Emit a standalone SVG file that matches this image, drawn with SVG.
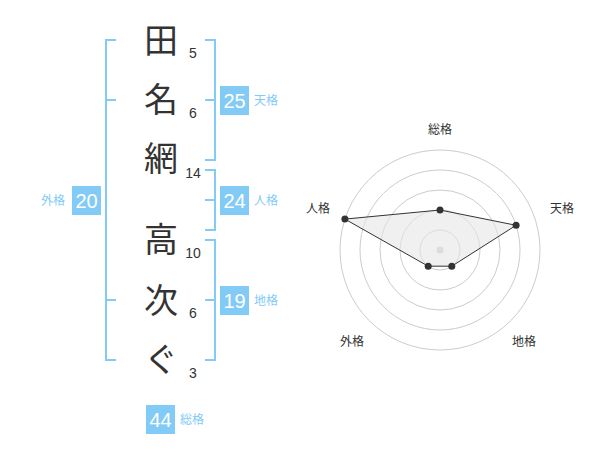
<svg xmlns="http://www.w3.org/2000/svg" width="600" height="470" viewBox="0 0 600 470">
<style>
.k{font-family:"Noto Sans CJK JP","Noto Sans CJK SC",sans-serif;font-size:34px;fill:#333;text-anchor:middle}
.n{font-family:"Liberation Sans",Arial,sans-serif;font-size:14px;fill:#333;text-anchor:middle}
.br{fill:none;stroke:#82cbf7;stroke-width:2}
.box{fill:#82cbf7}
.bn{font-family:"Liberation Sans",Arial,sans-serif;font-size:20px;fill:#fff;text-anchor:middle}
.bl{font-family:"Noto Sans CJK JP","Noto Sans CJK SC",sans-serif;font-size:12px;fill:#82cbf7}
.ring{fill:none;stroke:#ccc;stroke-width:1}
.rl{font-family:"Noto Sans CJK JP","Noto Sans CJK SC",sans-serif;font-size:12px;fill:#333;text-anchor:middle}
.pt{fill:#333}
</style>
<g id="name-chars">
<text class="k" x="161" y="53">田</text>
<text class="k" x="161" y="112">名</text>
<text class="k" x="161" y="171">網</text>
<text class="k" x="161" y="252">高</text>
<text class="k" x="161" y="313">次</text>
<text class="k" x="161" y="372">ぐ</text>
</g>
<g id="strokes">
<text class="n" x="193" y="58">5</text>
<text class="n" x="193" y="118">6</text>
<text class="n" x="193" y="178">14</text>
<text class="n" x="193" y="258">10</text>
<text class="n" x="193" y="318">6</text>
<text class="n" x="193" y="378">3</text>
</g>
<g id="connectors">
<path class="br" d="M116,40 H106 V360 H116 M106,100 H116 M106,300 H116"/>
<path class="br" d="M205,40 H215 V160 H205 M215,100 H205"/>
<path class="br" d="M205,170 H215 V230 H205 M215,200 H205"/>
<path class="br" d="M205,240 H215 V360 H205 M215,300 H205"/>
</g>
<g id="tenkaku">
<rect class="box" x="220" y="86" width="29" height="29"/>
<text class="bn" x="234.5" y="108">25</text>
<text class="bl" x="254" y="105">天格</text>
</g>
<g id="jinkaku">
<rect class="box" x="220" y="186" width="29" height="29"/>
<text class="bn" x="234.5" y="208">24</text>
<text class="bl" x="254" y="205">人格</text>
</g>
<g id="chikaku">
<rect class="box" x="220" y="286" width="29" height="29"/>
<text class="bn" x="234.5" y="308">19</text>
<text class="bl" x="254" y="305">地格</text>
</g>
<g id="gaikaku">
<rect class="box" x="72" y="186" width="29" height="29"/>
<text class="bn" x="86.5" y="208">20</text>
<text class="bl" x="41" y="205">外格</text>
</g>
<g id="sokaku">
<rect class="box" x="146" y="405" width="29" height="29"/>
<text class="bn" x="160.5" y="427">44</text>
<text class="bl" x="180" y="424">総格</text>
</g>
<g id="radar">
<circle class="ring" cx="440" cy="250" r="20"/>
<circle class="ring" cx="440" cy="250" r="40"/>
<circle class="ring" cx="440" cy="250" r="60"/>
<circle class="ring" cx="440" cy="250" r="80"/>
<circle class="ring" cx="440" cy="250" r="100"/>
<circle cx="440" cy="250" r="3.5" fill="#ccc"/>
<polygon points="440,210 516.1,225.3 451.8,266.2 428.2,266.2 344.9,219.1" fill="#e6e6e6" fill-opacity="0.6" stroke="#333" stroke-width="1"/>
<circle class="pt" cx="440" cy="210" r="3.5"/>
<circle class="pt" cx="516.1" cy="225.3" r="3.5"/>
<circle class="pt" cx="451.8" cy="266.2" r="3.5"/>
<circle class="pt" cx="428.2" cy="266.2" r="3.5"/>
<circle class="pt" cx="344.9" cy="219.1" r="3.5"/>
<text class="rl" x="440" y="134">総格</text>
<text class="rl" x="562" y="213">天格</text>
<text class="rl" x="318" y="213">人格</text>
<text class="rl" x="352" y="346">外格</text>
<text class="rl" x="524" y="346">地格</text>
</g>
</svg>
